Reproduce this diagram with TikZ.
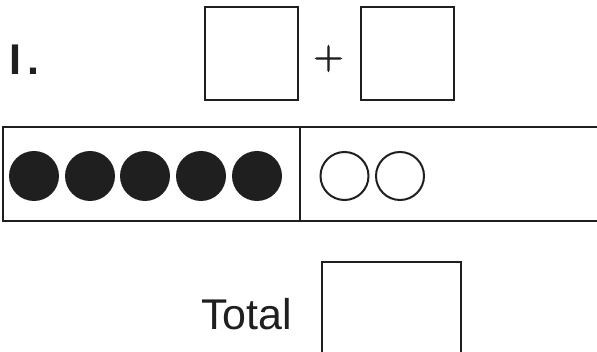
\documentclass[tikz,border=0pt]{standalone}
\usepackage{fontspec}
\setmainfont{Liberation Sans}
\newfontfamily\plusfont[FakeBold=2.2]{Latin Modern Roman}
\begin{document}
\begin{tikzpicture}[x=1pt,y=-1pt,
  ansbox/.style={draw=black!88, line width=2pt, rectangle, inner sep=0pt, minimum width=93pt, minimum height=93pt},
  cell/.style={draw=black!88, line width=2.3pt, rectangle, inner sep=0pt, minimum height=94pt},
  fullcounter/.style={circle, fill=black!88, inner sep=0pt, minimum size=50pt},
  emptycounter/.style={circle, draw=black!88, line width=2pt, inner sep=0pt, minimum size=48pt},
  lbl/.style={inner sep=0pt, text=black!88}]
\useasboundingbox (0,0) rectangle (597,352);
\clip (0,0) rectangle (597,352);
% question number
\node[lbl, anchor=base west, font=\fontsize{43}{43}\bfseries\selectfont] (qnum) at (9,74.5) {I\kern6.5pt.};
% addend boxes
\node[ansbox] (boxa) at (251.5,53.5) {};
\node[lbl, font=\plusfont\fontsize{41}{41}\selectfont] (plus) at (328.5,58.5) {+};
\node[ansbox] (boxb) at (407.5,53.5) {};
% ten frame
\node[cell, minimum width=297pt] (left) at (151.5,174) {};
\node[cell, minimum width=310pt] (right) at (455,174) {};
\foreach \i/\x in {1/34,2/90,3/145,4/201,5/257}
  \node[fullcounter] (f\i) at (\x,176) {};
\foreach \i/\x in {1/344.5,2/400}
  \node[emptycounter] (e\i) at (\x,176) {};
% total
\node[lbl, anchor=base west, font=\fontsize{43}{43}\selectfont] (total) at (201,329.5) {Total};
\node[ansbox, minimum width=139pt, minimum height=110pt] (boxt) at (391.5,317) {};
\end{tikzpicture}
\end{document}
